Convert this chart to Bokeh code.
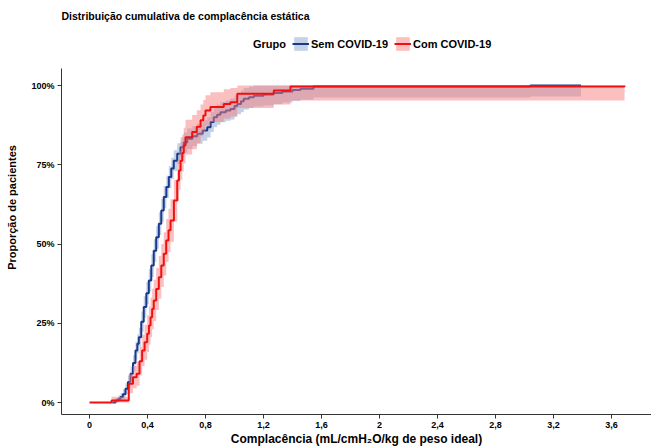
from bokeh.plotting import figure
from bokeh.models import Range1d, FixedTicker, Legend, LegendItem, Label
from bokeh.embed import file_html
from bokeh.resources import INLINE

FONT = "Liberation Sans"

# Sem COVID-19 (ECDF steps)
blue_x = [0.157, 0.18, 0.20, 0.214, 0.23, 0.248, 0.265, 0.283, 0.30, 0.317, 0.330, 0.340,
          0.357, 0.374, 0.392, 0.409, 0.426, 0.443, 0.460, 0.478, 0.495, 0.512, 0.530, 0.547,
          0.564, 0.581, 0.605, 0.628, 0.650, 0.674, 0.710, 0.743, 0.780, 0.812, 0.835, 0.857,
          0.880, 0.903, 0.940, 0.972, 1.000, 1.019, 1.045, 1.064, 1.100, 1.133, 1.200, 1.269,
          1.330, 1.400, 1.455, 1.545, 3.040, 3.390]
blue_y = [0.0, 0.006, 0.012, 0.017, 0.026, 0.043, 0.065, 0.091, 0.125, 0.164, 0.185, 0.206,
          0.255, 0.301, 0.345, 0.385, 0.432, 0.479, 0.521, 0.564, 0.606, 0.648, 0.680, 0.711,
          0.738, 0.763, 0.785, 0.805, 0.820, 0.832, 0.840, 0.848, 0.858, 0.868, 0.885, 0.900,
          0.908, 0.916, 0.921, 0.926, 0.935, 0.942, 0.950, 0.958, 0.963, 0.968, 0.972, 0.976,
          0.981, 0.986, 0.990, 0.997, 1.0, 1.0]
blue_hw = [0.0, 0.008, 0.01, 0.012, 0.015, 0.018, 0.02, 0.022, 0.025, 0.028, 0.03, 0.03,
           0.032, 0.034, 0.035, 0.035, 0.036, 0.036, 0.036, 0.036, 0.036, 0.035, 0.035, 0.034,
           0.034, 0.033, 0.033, 0.032, 0.032, 0.032, 0.032, 0.032, 0.032, 0.032, 0.032, 0.032,
           0.032, 0.032, 0.032, 0.033, 0.033, 0.033, 0.034, 0.034, 0.034, 0.034, 0.035, 0.035,
           0.035, 0.035, 0.035, 0.035, 0.035, 0.035]

# Com COVID-19
red_x = [0.0, 0.152, 0.271, 0.300, 0.325, 0.345, 0.363, 0.380, 0.398, 0.410, 0.421, 0.432,
         0.443, 0.460, 0.478, 0.495, 0.512, 0.529, 0.545, 0.559, 0.582, 0.605, 0.617, 0.628,
         0.640, 0.650, 0.662, 0.708, 0.740, 0.766, 0.785, 0.800, 0.834, 0.926, 0.972, 1.019,
         1.271, 1.386, 3.69]
red_y = [0.0, 0.006, 0.059, 0.080, 0.091, 0.130, 0.164, 0.190, 0.217, 0.243, 0.269, 0.295,
         0.322, 0.358, 0.395, 0.432, 0.469, 0.511, 0.543, 0.574, 0.637, 0.700, 0.732, 0.763,
         0.787, 0.811, 0.837, 0.853, 0.870, 0.890, 0.905, 0.921, 0.932, 0.942, 0.947, 0.974,
         0.984, 0.997, 1.0]
red_hw = [0.0, 0.012, 0.03, 0.035, 0.038, 0.045, 0.05, 0.055, 0.058, 0.06, 0.062, 0.064,
          0.065, 0.066, 0.067, 0.068, 0.068, 0.068, 0.068, 0.067, 0.066, 0.064, 0.062, 0.06,
          0.058, 0.056, 0.055, 0.054, 0.052, 0.05, 0.049, 0.048, 0.047, 0.046, 0.045, 0.045,
          0.044, 0.044, 0.044]

x_ticks = [0, 0.4, 0.8, 1.2, 1.6, 2.0, 2.4, 2.8, 3.2, 3.6]
x_tick_labels = ["0", "0,4", "0,8", "1,2", "1,6", "2", "2,4", "2,8", "3,2", "3,6"]
y_ticks = [0, 0.25, 0.5, 0.75, 1.0]
y_tick_labels = ["0%", "25%", "50%", "75%", "100%"]

def band(y, hw):
    lo = [max(0.0, a - b) for a, b in zip(y, hw)]
    hi = [min(1.0, a + b) for a, b in zip(y, hw)]
    return lo, hi

blue_lo, blue_hi = band(blue_y, blue_hw)
red_lo, red_hi = band(red_y, red_hw)

# layout (pixels): the frame also holds the header area above the axes
LEFT = 61
FW, FH = 651 - LEFT, 414
PX_X = 145.0           # pixels per x unit
X0_PX = 89 - LEFT      # position of x = 0 inside the frame
PX_Y = 317.0           # pixels per y unit
Y_LO = -12.0 / PX_Y
Y_HI = 1.0 + 85.0 / PX_Y
Y_AXIS_TOP = 1.054

p = figure(frame_width=FW, frame_height=FH, output_backend="svg", toolbar_location=None,
           x_range=Range1d(-X0_PX / PX_X, (FW - X0_PX) / PX_X), y_range=Range1d(Y_LO, Y_HI),
           min_border_left=LEFT, min_border_right=0, min_border_top=0, min_border_bottom=33)
p.background_fill_color = "white"
p.border_fill_color = "white"
p.outline_line_color = None
p.xgrid.visible = False
p.ygrid.visible = False

rb = p.varea_step(x=blue_x, y1=blue_lo, y2=blue_hi, step_mode="after",
                  fill_color="#9fb3d3", fill_alpha=0.6)
lb = p.step(blue_x, blue_y, mode="after", line_color="#173a8e", line_width=2)
rr = p.varea_step(x=red_x, y1=red_lo, y2=red_hi, step_mode="after",
                  fill_color="#f88080", fill_alpha=0.5)
lr = p.step(red_x, red_y, mode="after", line_color="#f01010", line_width=2)
dummy = p.scatter(x=[], y=[], fill_alpha=0, line_alpha=0)

for ax in (p.xaxis[0], p.yaxis[0]):
    ax.axis_line_color = "#333333"
    ax.axis_line_width = 1
    ax.major_tick_line_color = "#333333"
    ax.major_tick_out = 4
    ax.major_tick_in = 0
    ax.minor_tick_line_color = None
    ax.major_label_text_font = FONT
    ax.major_label_text_font_style = "bold"
    ax.major_label_text_font_size = "9px"
    ax.major_label_text_color = "black"
    ax.axis_label_text_font = FONT
    ax.axis_label_text_font_style = "bold"
    ax.axis_label_text_color = "black"

p.yaxis.bounds = (Y_LO, Y_AXIS_TOP)
p.xaxis.ticker = FixedTicker(ticks=x_ticks)
p.xaxis.major_label_overrides = {t: l for t, l in zip(x_ticks, x_tick_labels)}
p.yaxis.ticker = FixedTicker(ticks=y_ticks)
p.yaxis.major_label_overrides = {t: l for t, l in zip(y_ticks, y_tick_labels)}
p.xaxis.axis_label = "Complacência (mL/cmH₂O/kg de peso ideal)"
p.xaxis.axis_label_text_font_size = "12px"
p.xaxis.axis_label_standoff = 1
p.xaxis.major_label_standoff = 3
p.yaxis.axis_label = "Proporção de pacientes"
p.yaxis.axis_label_text_font_size = "11px"
p.yaxis.axis_label_standoff = 10
p.yaxis.major_label_standoff = 3

p.add_layout(Label(x=0, y=FH - 15, x_units="screen", y_units="screen",
                   text="Distribuição cumulativa de complacência estática",
                   text_font=FONT, text_font_style="bold", text_font_size="10.5px",
                   text_baseline="middle", text_align="left", text_color="black"))

legend = Legend(items=[LegendItem(label="Grupo", renderers=[dummy]),
                       LegendItem(label="Sem COVID-19", renderers=[rb, lb]),
                       LegendItem(label="Com COVID-19", renderers=[rr, lr])],
                orientation="horizontal", location=(173, FH - 52),
                label_text_font=FONT, label_text_font_style="bold", label_text_font_size="11px",
                label_text_color="black",
                glyph_width=17, glyph_height=17, label_standoff=2, spacing=6,
                padding=0, margin=0, border_line_color=None, background_fill_alpha=0,
                label_height=17)
p.add_layout(legend)

open("out.html", "w").write(file_html(p, INLINE))
